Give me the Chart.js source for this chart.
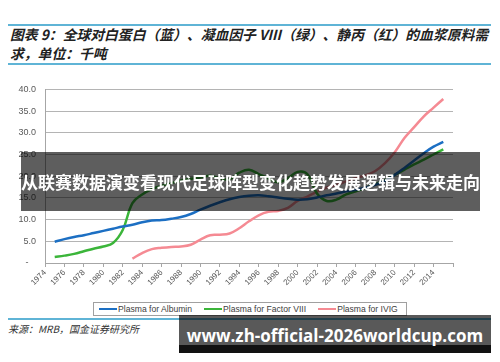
<!DOCTYPE html>
<html>
<head>
<meta charset="utf-8">
<script src="https://cdn.jsdelivr.net/npm/chart.js@4/dist/chart.umd.min.js"></script>
<style>
  html, body { margin: 0; padding: 0; background: #fff; }
  body { width: 500px; height: 362px; position: relative; overflow: hidden; font-family: "Liberation Sans", Arial, sans-serif; }
  .rule { position: absolute; left: 8px; width: 483px; height: 2px; background: #5fb4d6; }
  .title { position: absolute; left: 10px; top: 25px; width: 490px; font: italic bold 13.8px "Noto Sans CJK SC", sans-serif; color: #222; line-height: 19px; white-space: nowrap; }
  #wrap { position: absolute; left: 0; top: 75px; width: 500px; height: 220px; }
  #legend { position: absolute; left: 93px; top: 302px; width: 314px; height: 14px; border: 1px solid #a0a0a0; box-sizing: border-box;
            display: flex; align-items: center; font-size: 8.6px; color: #404040; white-space: nowrap; padding-left: 5px; }
  #legend span.item { display: flex; align-items: center; flex-shrink: 0; margin-right: 12px; }
  #legend span.swatch { display: inline-block; width: 18px; height: 2px; margin-right: 1px; }
  .source { position: absolute; left: 8px; top: 321px; font: italic 10px "Noto Sans CJK SC", sans-serif; color: #333; }
  .banner1 { position: absolute; left: 21px; top: 152px; width: 459px; height: 59px; background: rgba(0,0,0,0.63);
             color: #fff; font: bold 17px "Noto Sans CJK SC", sans-serif; text-align: center; line-height: 59px; white-space: nowrap; }
  .banner2 { position: absolute; left: 179px; top: 315px; width: 312px; height: 38px; background: rgba(0,0,0,0.65);
             color: #fff; font: bold 17px "Open Sans", "Noto Sans", sans-serif; text-align: center; line-height: 42px; white-space: nowrap; }
  .banner2 .dark { position: absolute; left: 0; right: 0; bottom: 0; height: 8px; background: #111; }
  .banner2 .txt { position: relative; }
</style>
</head>
<body>
<div class="rule" style="top:24px"></div>
<div class="title">图表 9：全球对白蛋白（蓝）、凝血因子 VIII（绿）、静丙（红）的血浆原料需<br>求，单位：千吨</div>
<div class="rule" style="top:63px"></div>

<div id="wrap"><canvas id="plasmaChart" width="500" height="220"></canvas></div>

<div id="legend"></div>
<div class="rule" style="top:318px"></div>
<div class="source">来源：MRB，国金证券研究所</div>

<div class="banner1">从联赛数据演变看现代足球阵型变化趋势发展逻辑与未来走向</div>
<div class="banner2"><div class="dark"></div><span class="txt">www.zh-official-2026worldcup.com</span></div>

<script>
// Years on the x axis (data 1975-2015)
const years = [1975, 1976, 1977, 1978, 1979, 1980, 1981, 1982, 1983, 1984,
               1985, 1986, 1987, 1988, 1989, 1990, 1991, 1992, 1993, 1994,
               1995, 1996, 1997, 1998, 1999, 2000, 2001, 2002, 2003, 2004,
               2005, 2006, 2007, 2008, 2009, 2010, 2011, 2012, 2013, 2014, 2015];

// Plasma demand, thousand tonnes
const albumin = [4.9, 5.5, 6.0, 6.4, 6.9, 7.4, 7.9, 8.4, 8.8, 9.4,
                 9.8, 9.9, 10.2, 10.6, 11.3, 12.3, 13.2, 14.0, 14.7, 15.2,
                 15.5, 15.6, 15.4, 15.1, 14.8, 14.6, 14.7, 15.1, 15.6, 16.0,
                 16.5, 16.9, 17.4, 18.0, 18.9, 20.3, 21.9, 23.6, 25.3, 26.8, 27.9];
const factorVIII = [1.4, 1.7, 2.1, 2.7, 3.3, 3.8, 4.6, 7.6, 13.8, 15.8,
                    17.0, 17.8, 18.4, 19.0, 19.4, 19.7, 20.1, 19.5, 19.3, 20.8,
                    21.5, 20.5, 19.5, 18.6, 19.5, 21.0, 20.5, 16.0, 14.3, 14.6,
                    15.8, 16.5, 17.3, 18.2, 19.1, 20.3, 21.5, 22.7, 23.8, 25.0, 26.2];
const ivig = [null, null, null, null, null, null, null, null, 1.0, 2.3,
              3.2, 3.5, 3.7, 3.8, 4.2, 5.4, 6.4, 6.5, 6.8, 8.0,
              9.6, 11.0, 11.8, 12.0, 12.7, 14.3, 15.3, 16.4, 17.4, 18.0,
              18.8, 19.6, 20.2, 21.2, 23.0, 25.5, 28.8, 31.3, 33.8, 35.8, 37.8];

const seriesNames = ['Plasma for Albumin', 'Plasma for Factor VIII', 'Plasma for IVIG'];
const seriesColors = ['#1c6fc3', '#3bb53a', '#f58a93'];
const seriesValues = [albumin, factorVIII, ivig];

const toPoints = vals => years.map((yr, i) => ({ x: yr, y: vals[i] }));

const ctx = document.getElementById('plasmaChart').getContext('2d');
new Chart(ctx, {
    type: 'line',
    data: {
        datasets: seriesValues.map((vals, i) => ({
            label: seriesNames[i],
            data: toPoints(vals),
            borderColor: seriesColors[i],
            borderWidth: 2.5,
            pointRadius: 0,
            tension: 0.4,
            fill: false,
            spanGaps: false
        }))
    },
    options: {
        responsive: false,
        animation: false,
        layout: { padding: { top: 8, right: 47, left: 0, bottom: 0 } },
        plugins: {
            legend: { display: false },
            tooltip: { enabled: false }
        },
        scales: {
            x: {
                type: 'linear',
                min: 1974,
                max: 2016,
                afterFit: s => { s.height = 32; },
                grid: { drawOnChartArea: false, color: '#a6a6a6', tickLength: 4 },
                border: { color: '#a6a6a6' },
                ticks: {
                    stepSize: 2,
                    minRotation: 45,
                    maxRotation: 45,
                    color: '#595959',
                    font: { size: 8, family: 'Liberation Sans' },
                    padding: 1,
                    callback: v => (v === 2016 ? '' : String(v))
                }
            },
            y: {
                min: 0,
                max: 40,
                afterFit: s => { s.width = 45; },
                grid: { color: '#b4b4b4', drawTicks: false },
                border: { color: '#a6a6a6' },
                ticks: {
                    stepSize: 5,
                    color: '#595959',
                    font: { size: 9, family: 'Liberation Sans' },
                    padding: 9,
                    callback: v => (v === 0 ? '-   ' : v.toFixed(1))
                }
            }
        }
    }
});

// legend box
const legend = document.getElementById('legend');
seriesNames.forEach((name, i) => {
    const item = document.createElement('span');
    item.className = 'item';
    item.innerHTML = '<span class="swatch" style="background:' + seriesColors[i] + '"></span>' + name;
    legend.appendChild(item);
});
</script>
</body>
</html>
